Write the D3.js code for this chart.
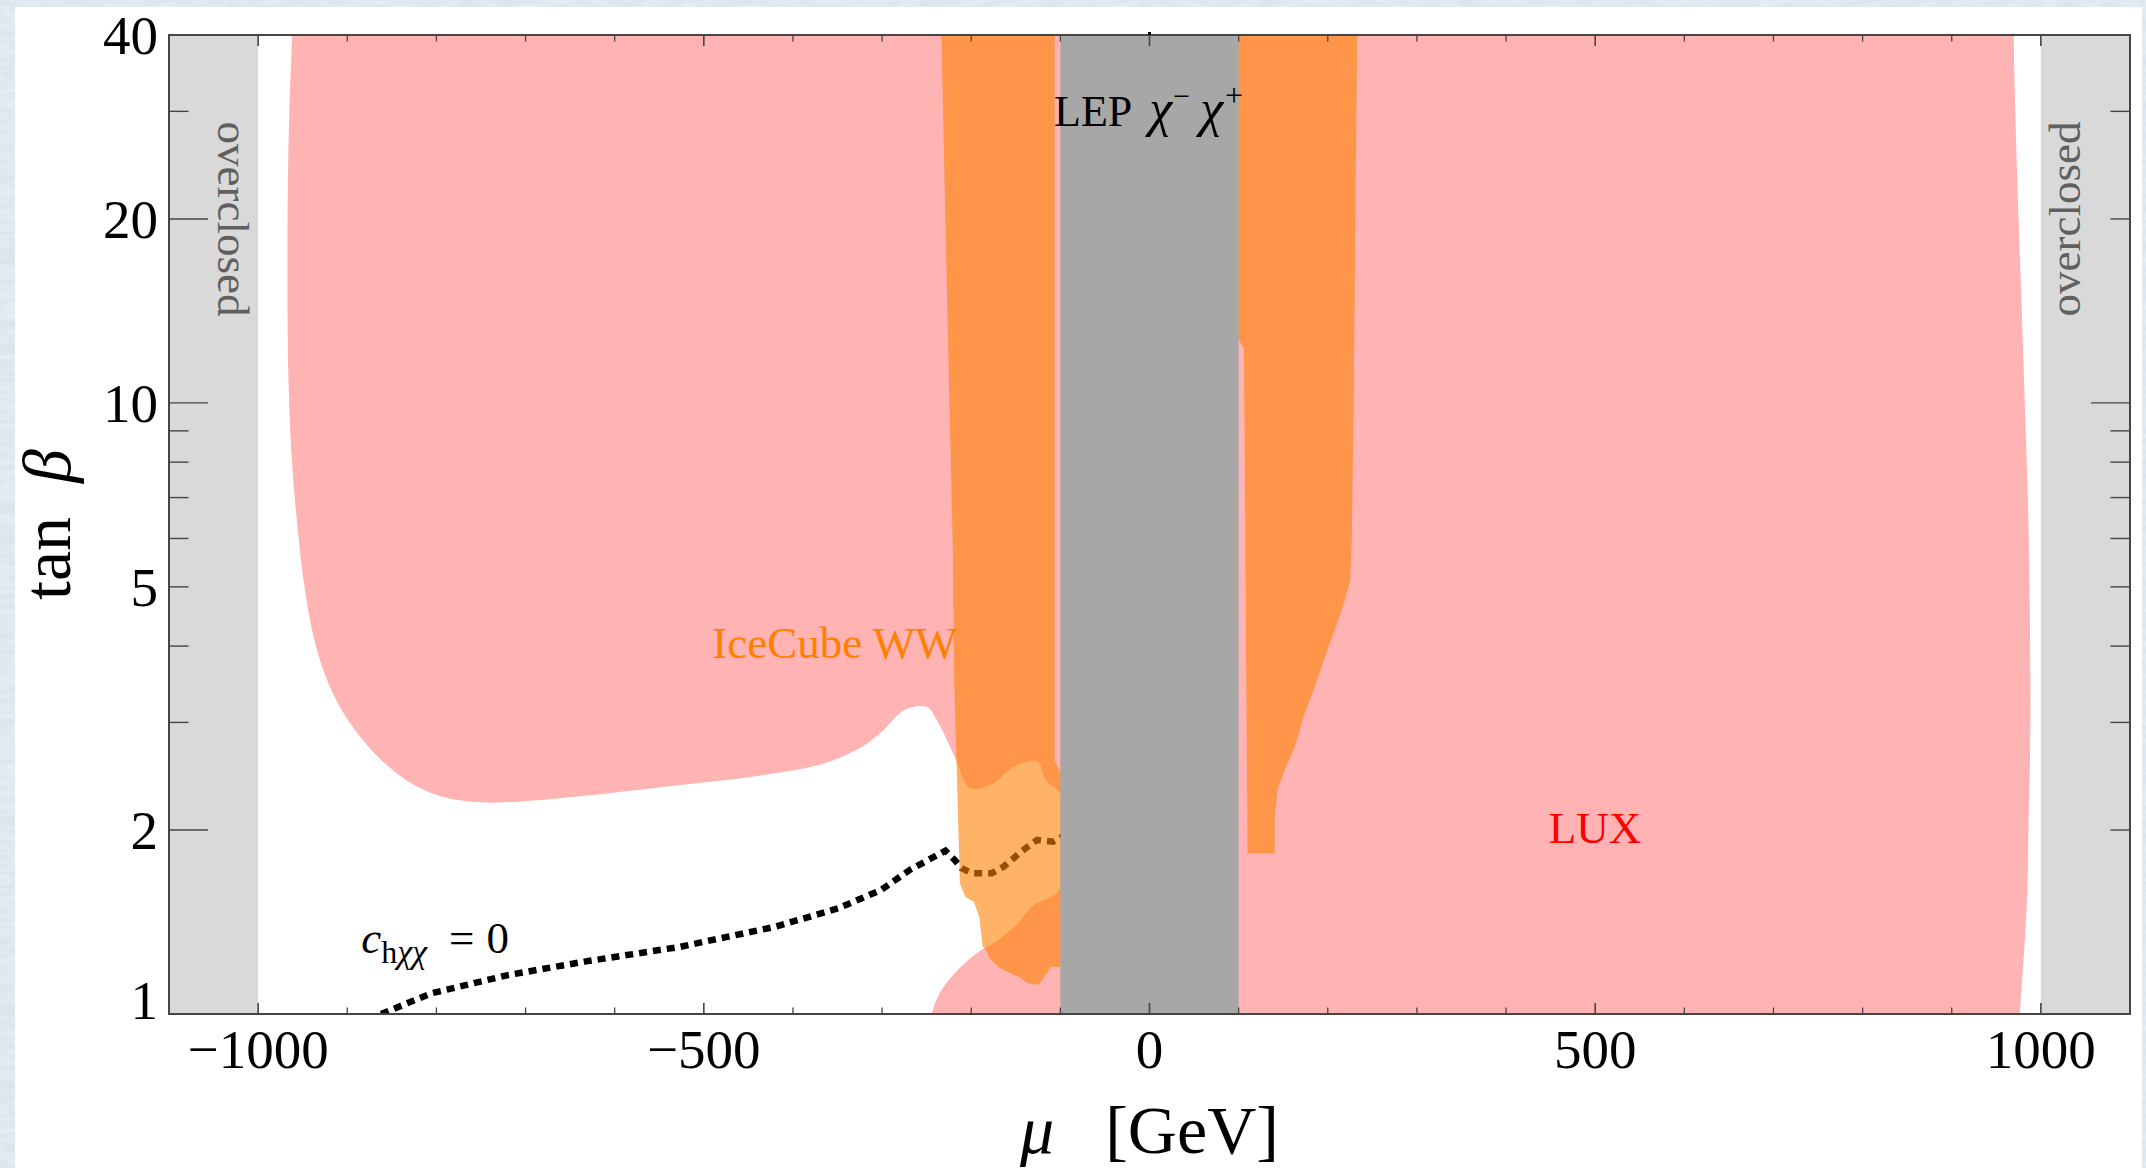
<!DOCTYPE html>
<html>
<head>
<meta charset="utf-8">
<script src="https://cdn.jsdelivr.net/npm/d3@7"></script>
<style>
  html, body { margin: 0; padding: 0; background: #ffffff; }
  svg { display: block; }
</style>
</head>
<body>
<div id="chart"></div>
<script>
// ---------------- data: μ in GeV, tanβ dimensionless ----------------
const muDomain = [-1100, 1100];
const tanbDomain = [1, 40];

const xMajorTicks = [-1000, -500, 0, 500, 1000];
const xMinorTicks = [-1100, -900, -800, -700, -600, -400, -300, -200, -100,
                     100, 200, 300, 400, 600, 700, 800, 900, 1100];
const yLabelTicks = [1, 2, 5, 10, 20, 40];
const yMinorTicks = [3, 4, 6, 7, 8, 9, 30];
const yLongLeft = [1, 2, 10, 20];
const yLongRight = [1, 10];

// relic density too large
const overclosedBands = [[-1100, -1000], [1000, 1100]];
// LEP chargino pair production limit
const lepBand = [-100, 100];

// LUX spin-independent exclusion (outline of excluded region; the outline
// runs slightly past the frame at top and bottom so the smoothing is clipped)
const luxExcluded = [
  [-962, 40], [-961, 52], [0, 52], [970, 52], [969.5, 40],
  [975, 20], [978, 15], [982, 10], [986, 6.4], [988, 4], [988, 2.76],
  [986, 2], [984.7, 1.57], [981, 1.25], [976.4, 1], [975, 0.9],
  [400, 0.9], [-246, 0.9], [-244.2, 1], [-234.3, 1.088], [-218.6, 1.166],
  [-198.9, 1.241], [-185.2, 1.281],
  [-175.3, 1.305], [-147.8, 1.407], [-132, 1.498], [-98, 1.616],
  [-98, 2.27], [-116.3, 2.415], [-126, 2.588], [-151.7, 2.54], [-175.3, 2.385],
  [-200.9, 2.34], [-218.6, 2.637], [-236.7, 2.99], [-250, 3.18], [-274.3, 3.146],
  [-300, 2.9], [-322.6, 2.738], [-365.5, 2.57], [-446, 2.445], [-526.6, 2.37],
  [-634, 2.275], [-709, 2.226], [-750, 2.22], [-790, 2.26], [-825, 2.37],
  [-855, 2.55], [-880, 2.78], [-902, 3.07], [-922, 3.5], [-937, 4.1], [-948, 5.0],
  [-956, 6.3], [-962, 8], [-966, 11], [-967, 20], [-965, 30]
];

// IceCube WW exclusion, μ < 0 branch
const iceCubeNeg = [
  [-233.4, 40], [-106.5, 40], [-106.5, 2.6], [-98, 2.45], [-98, 1.195],
  [-110.4, 1.195], [-124.2, 1.116], [-136, 1.123], [-143.9, 1.144],
  [-167.5, 1.188], [-179.3, 1.233], [-183.2, 1.273], [-187.1, 1.288],
  [-191, 1.443], [-197, 1.527], [-206.8, 1.556], [-212.7, 1.636],
  [-216.6, 2.6], [-219, 3.5], [-220.6, 5.75], [-224.5, 10.1], [-229, 20],
  [-233.4, 40]
];

// IceCube WW exclusion, μ > 0 branch
const iceCubePos = [
  [98, 40], [233, 40], [231, 20], [229, 10], [227, 6], [225, 5.1], [214, 4.5],
  [199.5, 3.94], [186.9, 3.48], [173, 3.07], [163.2, 2.74], [151.5, 2.51],
  [143.7, 2.33], [140.5, 2.10], [140.5, 1.83], [110, 1.83], [106, 12.3],
  [98, 12.8], [98, 40]
];

// blind spot: vanishing Higgs coupling to the neutralino
const chxxZero = [
  [-862, 1.0], [-805.7, 1.081], [-719.8, 1.158], [-634, 1.218], [-526.6, 1.288],
  [-419.2, 1.39], [-349.4, 1.489], [-301.1, 1.596], [-268.9, 1.721],
  [-229, 1.85], [-218.6, 1.787], [-210.8, 1.732], [-198.9, 1.699],
  [-177.3, 1.699], [-163.6, 1.742], [-143.9, 1.844], [-126.1, 1.927],
  [-108.4, 1.914], [-98, 1.951]
];

// ---------------- layout ----------------
const W = 2146, H = 1168;
const plot = { left: 169, right: 2130, top: 35, bottom: 1014 };
const serif = "'Liberation Serif', 'Times New Roman', Times, serif";

const x = d3.scaleLinear().domain(muDomain).range([plot.left, plot.right]);
const y = d3.scaleLog().domain(tanbDomain).range([plot.bottom, plot.top]);

const svg = d3.select("#chart").append("svg")
  .attr("width", W).attr("height", H)
  .attr("viewBox", `0 0 ${W} ${H}`);

const defs = svg.append("defs");
const paper = defs.append("filter").attr("id", "paper")
  .attr("x", 0).attr("y", 0).attr("width", "100%").attr("height", "100%");
paper.append("feTurbulence").attr("type", "fractalNoise")
  .attr("baseFrequency", "0.05 0.2").attr("numOctaves", 3).attr("seed", 7);
paper.append("feColorMatrix").attr("type", "matrix")
  .attr("values", "0 0 0 0 1  0 0 0 0 1  0 0 0 0 1  0 0 0 1.2 -0.35");

defs.append("clipPath").attr("id", "plotClip")
  .append("rect")
  .attr("x", plot.left).attr("y", plot.top)
  .attr("width", plot.right - plot.left).attr("height", plot.bottom - plot.top);

// slide backdrop and white page
svg.append("rect").attr("width", W).attr("height", H).attr("fill", "#dbe4ef");
svg.append("rect").attr("width", W).attr("height", H)
  .attr("filter", "url(#paper)").attr("opacity", 0.55);
svg.append("rect").attr("x", 15).attr("y", 7).attr("width", 2127).attr("height", H - 7)
  .attr("fill", "#ffffff");

const area = svg.append("g").attr("clip-path", "url(#plotClip)");
const poly = d3.line().x(d => x(d[0])).y(d => y(d[1]));
const smooth = d3.line().x(d => x(d[0])).y(d => y(d[1]))
  .curve(d3.curveCatmullRomClosed.alpha(0.5));

// LUX
area.append("path").datum(luxExcluded)
  .attr("d", smooth).attr("fill", "#ffb3b3");

// c_hχχ = 0 line (beneath the translucent IceCube layer)
area.append("path").datum(chxxZero)
  .attr("d", poly).attr("fill", "none")
  .attr("stroke", "#000").attr("stroke-width", 6.5)
  .attr("stroke-dasharray", "8,6");

// IceCube
[iceCubeNeg, iceCubePos].forEach(region => {
  area.append("path").datum(region)
    .attr("d", d => poly(d) + "Z")
    .attr("fill", "rgb(255,128,0)").attr("fill-opacity", 0.6);
});

// LEP band
area.append("rect")
  .attr("x", x(lepBand[0])).attr("width", x(lepBand[1]) - x(lepBand[0]))
  .attr("y", plot.top).attr("height", plot.bottom - plot.top)
  .attr("fill", "#a7a7a7");

// overclosed bands
overclosedBands.forEach(b => {
  area.append("rect")
    .attr("x", x(b[0])).attr("width", x(b[1]) - x(b[0]))
    .attr("y", plot.top).attr("height", plot.bottom - plot.top)
    .attr("fill", "#d9d9d9");
});

// ---------------- labels inside the plot ----------------
const ann = svg.append("g").attr("font-family", serif);

ann.append("text")
  .attr("transform", `translate(${x(-1045)},${y(20)}) rotate(90)`)
  .attr("text-anchor", "middle").attr("font-size", 45).attr("fill", "#606060")
  .text("overclosed");
ann.append("text")
  .attr("transform", `translate(${x(1044)},${y(20)}) rotate(-90)`)
  .attr("text-anchor", "middle").attr("font-size", 45).attr("fill", "#606060")
  .text("overclosed");

const lep = ann.append("text")
  .attr("x", x(-107)).attr("y", y(28.4))
  .attr("font-size", 44).attr("fill", "#000");
lep.append("tspan").text("LEP\u00A0");
lep.append("tspan").attr("font-style", "italic").attr("font-size", 52).attr("dx", 6).text("χ");
lep.append("tspan").attr("font-size", 30).attr("dy", -20).attr("dx", 1).text("−");
lep.append("tspan").attr("font-style", "italic").attr("font-size", 52)
  .attr("dy", 20).attr("dx", 10).text("χ");
lep.append("tspan").attr("font-size", 32).attr("dy", -20).attr("dx", 2).text("+");

ann.append("text")
  .attr("x", x(-490.5)).attr("y", y(3.825))
  .attr("font-size", 45).attr("fill", "#ff8000")
  .text("IceCube WW");

ann.append("text")
  .attr("x", x(447.8)).attr("y", y(1.905))
  .attr("font-size", 45).attr("fill", "#ff0000")
  .text("LUX");

const ch = ann.append("text")
  .attr("x", x(-884.4)).attr("y", y(1.258))
  .attr("font-size", 45).attr("fill", "#000");
ch.append("tspan").attr("font-style", "italic").text("c");
ch.append("tspan").attr("font-size", 32).attr("dy", 10).text("h");
ch.append("tspan").attr("font-size", 34).attr("font-style", "italic").text("χχ");
ch.append("tspan").attr("dy", -10).attr("dx", 22).text("=");
ch.append("tspan").attr("dx", 12).text("0");

// ---------------- frame, ticks, tick labels ----------------
const frame = svg.append("g").attr("stroke", "#454545");
const bigX = 11, smallX = 6.5, bigY = 39, smallY = 19.5;

xMajorTicks.forEach(v => {
  frame.append("line").attr("x1", x(v)).attr("x2", x(v))
    .attr("y1", plot.bottom).attr("y2", plot.bottom - bigX).attr("stroke-width", 1.6);
  frame.append("line").attr("x1", x(v)).attr("x2", x(v))
    .attr("y1", plot.top).attr("y2", plot.top + bigX).attr("stroke-width", 1.6);
});
xMinorTicks.forEach(v => {
  frame.append("line").attr("x1", x(v)).attr("x2", x(v))
    .attr("y1", plot.bottom).attr("y2", plot.bottom - smallX).attr("stroke-width", 1.3);
  frame.append("line").attr("x1", x(v)).attr("x2", x(v))
    .attr("y1", plot.top).attr("y2", plot.top + smallX).attr("stroke-width", 1.3);
});
yLabelTicks.concat(yMinorTicks).forEach(v => {
  const lenL = yLongLeft.includes(v) ? bigY : smallY;
  const lenR = yLongRight.includes(v) ? bigY : smallY;
  frame.append("line").attr("x1", plot.left).attr("x2", plot.left + lenL)
    .attr("y1", y(v)).attr("y2", y(v)).attr("stroke-width", 1.4);
  frame.append("line").attr("x1", plot.right).attr("x2", plot.right - lenR)
    .attr("y1", y(v)).attr("y2", y(v)).attr("stroke-width", 1.4);
});
frame.append("rect")
  .attr("x", plot.left).attr("y", plot.top)
  .attr("width", plot.right - plot.left).attr("height", plot.bottom - plot.top)
  .attr("fill", "none").attr("stroke-width", 2);
// small cap above the μ = 0 top tick
frame.append("line").attr("x1", x(0)).attr("x2", x(0))
  .attr("y1", plot.top - 3).attr("y2", plot.top).attr("stroke", "#000").attr("stroke-width", 3);

const labels = svg.append("g").attr("font-family", serif).attr("fill", "#000");
const fmt = v => (v < 0 ? "\u2212" + Math.abs(v) : String(v));

labels.selectAll("text.xt").data(xMajorTicks).join("text")
  .attr("class", "xt")
  .attr("x", d => x(d)).attr("y", plot.bottom + 54)
  .attr("text-anchor", "middle").attr("font-size", 55)
  .text(fmt);

labels.selectAll("text.yt").data(yLabelTicks).join("text")
  .attr("class", "yt")
  .attr("x", plot.left - 11)
  .attr("y", d => y(d) + (d === 1 ? -14 : 0))
  .attr("dy", "0.34em")
  .attr("text-anchor", "end").attr("font-size", 55)
  .text(fmt);

// axis titles
const xt = labels.append("text")
  .attr("x", x(0)).attr("y", 1153)
  .attr("text-anchor", "middle").attr("font-size", 68);
xt.append("tspan").attr("font-style", "italic").text("μ");
xt.append("tspan").text("\u00A0\u00A0\u00A0[GeV]");

const yt = labels.append("text")
  .attr("transform", `translate(70,${(plot.top + plot.bottom) / 2}) rotate(-90)`)
  .attr("text-anchor", "middle").attr("font-size", 68);
yt.append("tspan").text("tan\u00A0\u00A0");
yt.append("tspan").attr("font-style", "italic").text("β");
</script>
</body>
</html>
